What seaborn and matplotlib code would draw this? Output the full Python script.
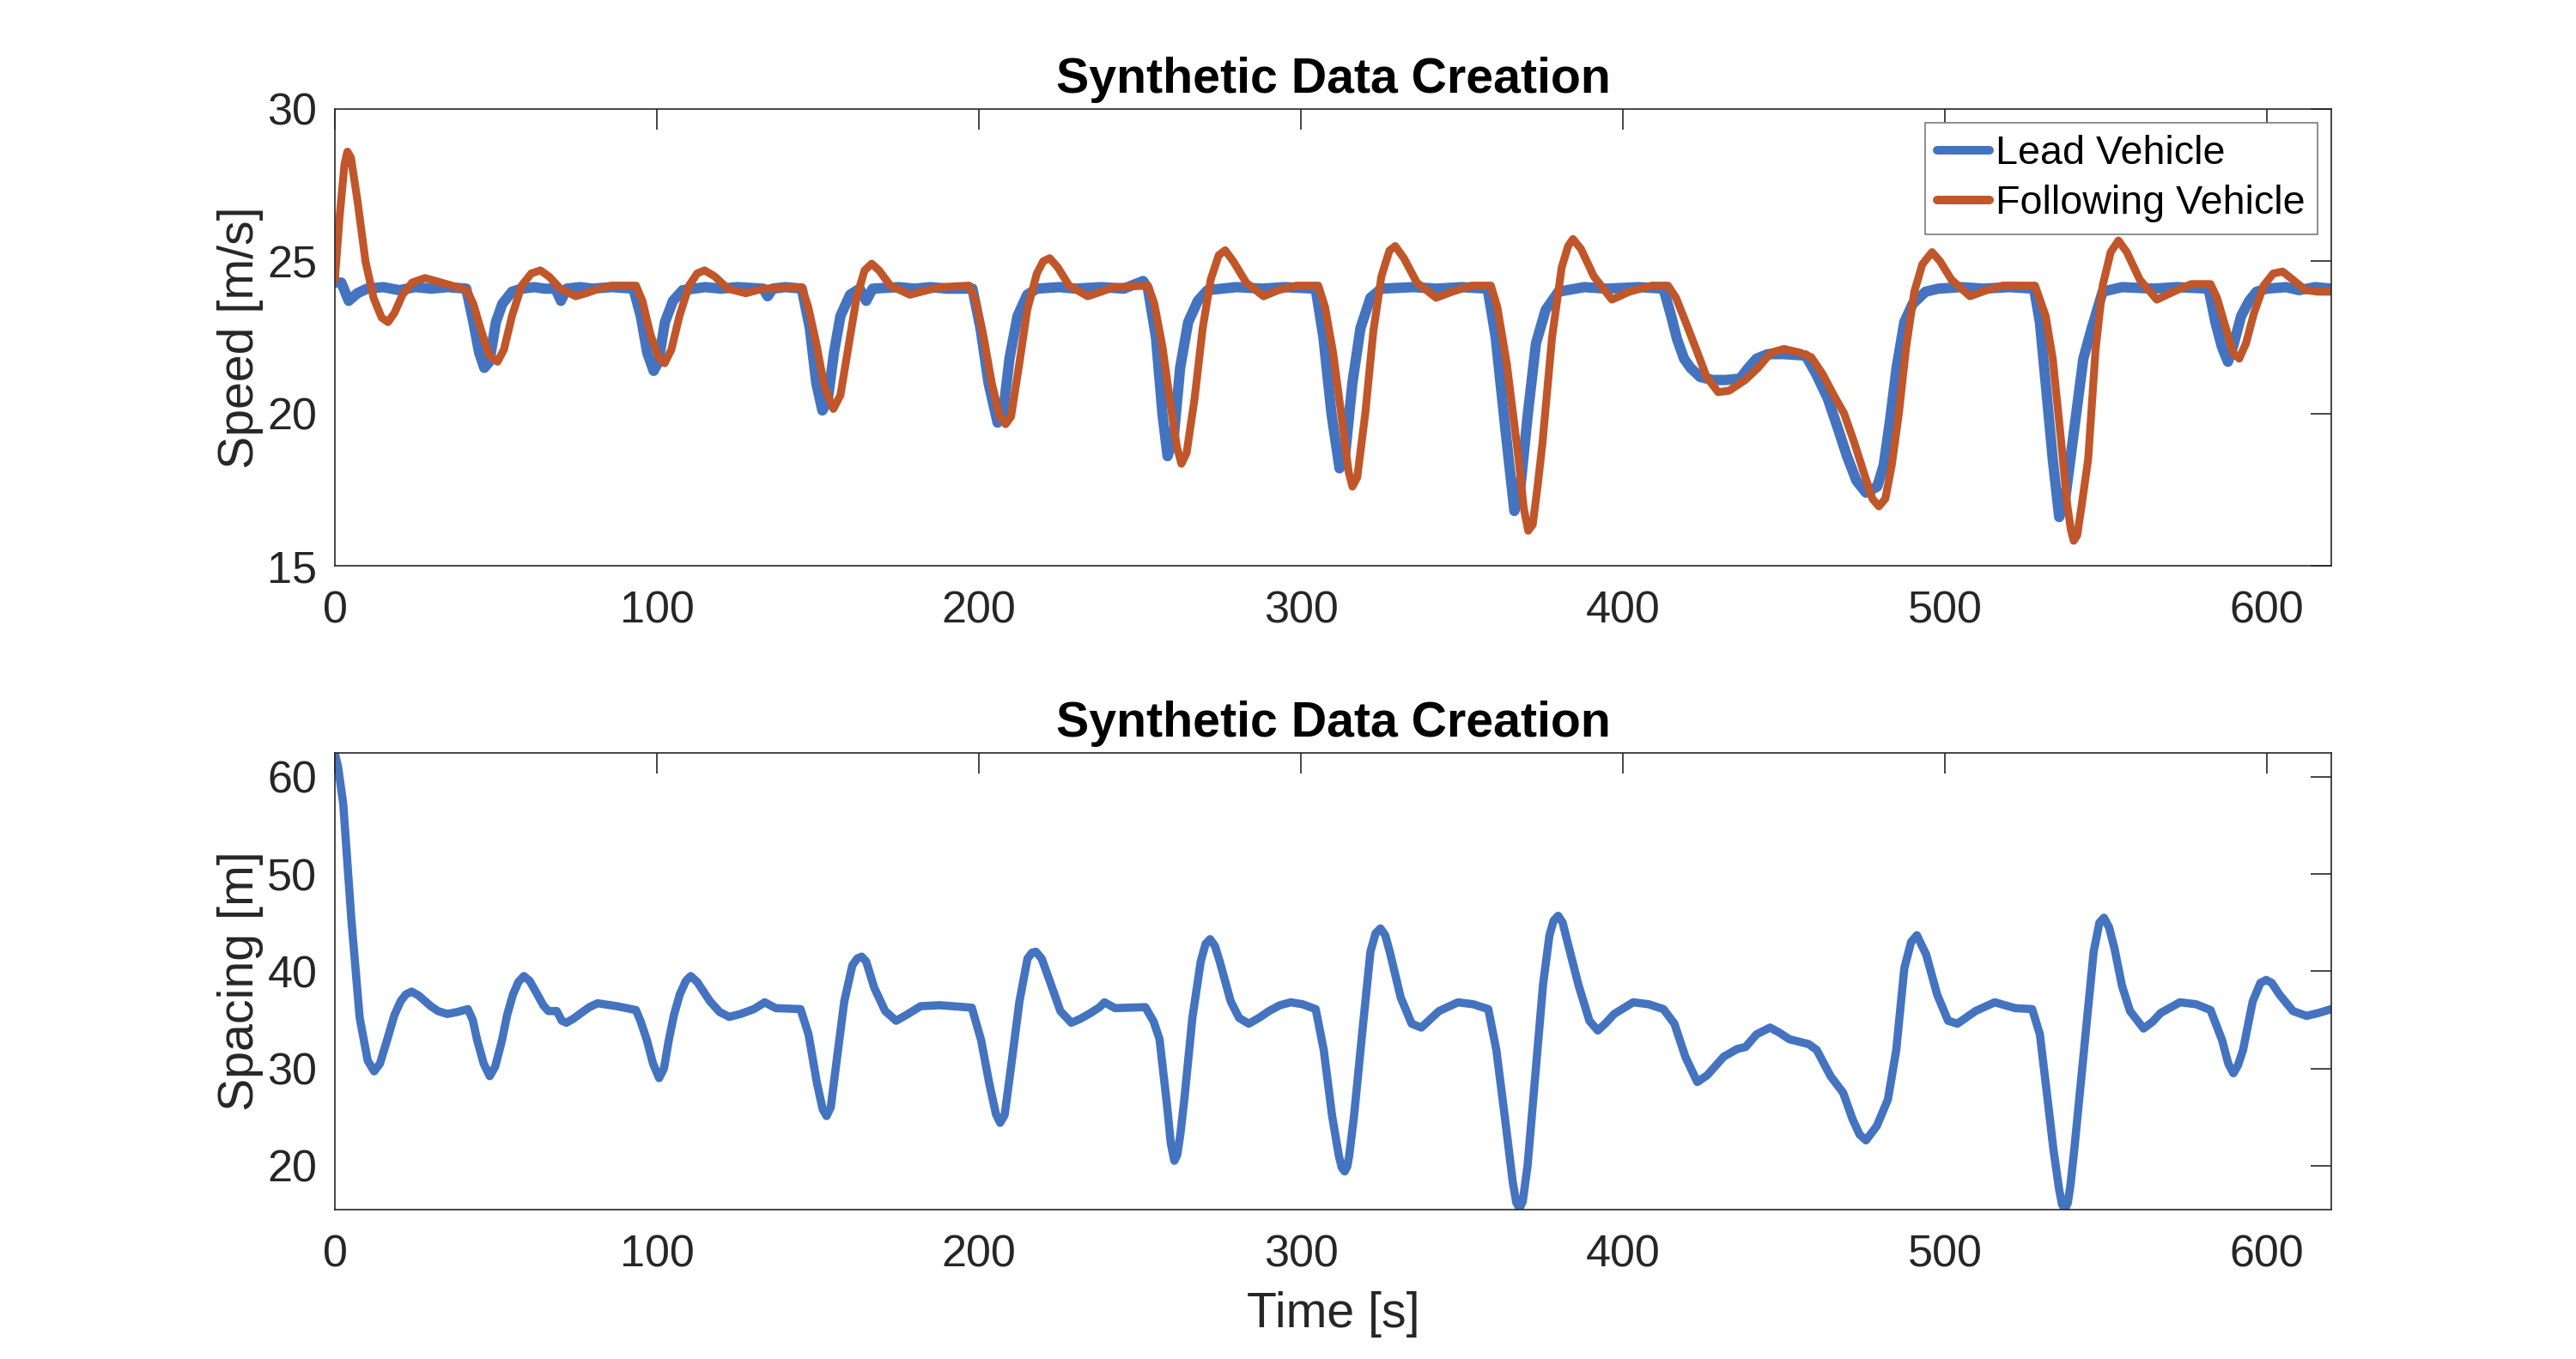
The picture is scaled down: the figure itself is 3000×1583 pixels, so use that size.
import numpy as np
import pandas as pd
import matplotlib
matplotlib.use("Agg")
import matplotlib.pyplot as plt
import seaborn as sns

# ---- data ----
lead_t = [0, 2, 4.3, 7, 10, 15, 20, 25, 30, 35, 40.8, 43, 44.8, 46.4, 48, 50, 52, 55, 58, 62, 65,
          68.5, 70.2, 72, 76, 80, 86, 92.7, 95, 97, 99, 100.5, 102.5, 105, 108, 115, 120, 125,
          133, 134.4, 136, 140, 145, 147.5, 149.5, 151.4, 153, 155, 157, 160, 163, 165, 167, 175,
          180, 185, 190, 198, 200.5, 203, 205.8, 207.5, 209.5, 212, 215, 218, 225, 230, 238,
          245, 251, 252.5, 255, 257, 258.6, 260.5, 262.5, 265, 268, 271, 280, 288, 295, 304.6,
          307, 309.5, 312, 313.8, 316, 318.5, 321.6, 325, 335, 342, 350, 358, 360.5, 363.5,
          366.3, 368, 370.5, 373, 376, 380, 388, 395, 405, 412.6, 415, 416.8, 419, 421, 424,
          427.9, 432, 436.4, 439, 441.5, 445, 450, 456.8, 460, 463.6, 466.5, 469.6, 472.5,
          475.5, 479, 481, 483, 485, 487.4, 490, 494, 498, 505, 512, 520, 527.7, 529.5, 531.3,
          533.5, 535.5, 537.5, 540.8, 543, 545.6, 549, 555, 565, 572, 581.9, 584, 586, 587.9,
          589.5, 592, 594.5, 596.8, 600, 606, 610, 615, 620]
lead_v = [24.3, 24.3, 23.7, 23.95, 24.1, 24.15, 24.05, 24.15, 24.1, 24.15, 24.1, 23.0, 22.0, 21.5,
          21.7, 23.0, 23.6, 24.0, 24.1, 24.15, 24.1, 24.1, 23.7, 24.1, 24.15, 24.1, 24.15, 24.1,
          23.2, 22.0, 21.4, 21.7, 23.0, 23.7, 24.05, 24.15, 24.1, 24.15, 24.1, 23.85, 24.1,
          24.15, 24.1, 22.8, 21.0, 20.1, 20.4, 22.0, 23.2, 23.9, 24.1, 23.7, 24.1, 24.15, 24.1,
          24.15, 24.1, 24.1, 22.8, 21.0, 19.7, 20.0, 21.8, 23.2, 23.9, 24.1, 24.15, 24.1, 24.15,
          24.1, 24.35, 24.1, 22.5, 20.0, 18.6, 19.2, 21.5, 23.0, 23.7, 24.05, 24.15, 24.1,
          24.15, 24.1, 22.5, 20.0, 18.2, 18.7, 21.0, 22.8, 23.8, 24.1, 24.15, 24.1, 24.15,
          24.1, 22.5, 19.5, 16.8, 17.4, 20.0, 22.3, 23.4, 24.0, 24.15, 24.1, 24.15, 24.1, 23.2,
          22.45, 21.8, 21.5, 21.2, 21.1, 21.1, 21.15, 21.5, 21.8, 21.95, 21.95, 21.9, 21.3,
          20.5, 19.6, 18.6, 17.8, 17.4, 17.6, 18.3, 19.8, 21.5, 23.0, 23.6, 24.0, 24.1, 24.15,
          24.1, 24.15, 24.1, 23.0, 21.0, 18.5, 16.6, 17.3, 20.0, 21.8, 22.8, 24.0, 24.15, 24.1,
          24.15, 24.1, 23.0, 22.2, 21.7, 22.2, 23.2, 23.7, 24.0, 24.1, 24.15, 24.05, 24.15, 24.1]

follow_t = [0, 1.5, 3, 3.9, 5, 7, 9.5, 12, 14.5, 16.5, 18.5, 21, 24, 28, 33, 38, 41, 43, 45.5, 48,
            50.5, 52.5, 55, 58, 61, 63.8, 66.5, 70, 74.8, 78, 82, 86, 93.5, 95.5, 98, 100.5,
            102.4, 104.5, 107, 110, 112.5, 114.8, 118, 122, 127.6, 133, 145, 147, 149.5, 152,
            154.8, 157, 159.5, 162, 164.5, 166.7, 169, 172.5, 178.6, 184, 188, 197, 199, 201.5,
            204, 206.5, 208.3, 210, 212.5, 215, 218, 220, 222, 224.5, 228, 233.8, 238, 242,
            252.5, 254.5, 257, 259.5, 261.5, 262.9, 264.5, 267, 269.5, 272, 274.5, 276.5, 279,
            283, 288.4, 293, 298.6, 305.4, 307.5, 310, 313, 314.8, 316, 317.5, 320, 322.5, 325,
            327.5, 329.3, 332, 336, 342, 347, 353, 359, 361, 364, 367.5, 369.2, 370.6, 372,
            373.5, 375, 378, 381, 383, 384.5, 387, 391, 396.6, 402, 409, 414, 416.5, 419.5,
            422.8, 426, 429.6, 433, 438, 442, 446, 450, 455, 458.5, 462, 465.5, 468.7, 472, 475,
            477.5, 479.5, 481.5, 483.5, 485.7, 488, 490.5, 493, 496, 498.5, 502, 507.8, 513, 518,
            528, 531.3, 533.5, 536, 538, 539.1, 540, 541.1, 542.5, 544.5, 546.8, 549, 551.5,
            553.9, 556.5, 560.5, 565.8, 571, 576.5, 582.5, 584.5, 587, 589.5, 591.4, 593.5, 596,
            599, 602, 604.9, 608, 612, 616, 620]
follow_v = [24.4, 26.5, 28.2, 28.6, 28.4, 27.0, 25.0, 23.8, 23.15, 23.0, 23.3, 23.9, 24.3, 24.45,
            24.3, 24.15, 24.05, 23.6, 22.7, 21.9, 21.7, 22.1, 23.2, 24.2, 24.6, 24.7, 24.5, 24.1,
            23.85, 23.95, 24.1, 24.2, 24.2, 23.7, 22.6, 21.85, 21.65, 22.1, 23.2, 24.2, 24.6,
            24.7, 24.5, 24.1, 23.95, 24.1, 24.15, 23.5, 22.3, 20.9, 20.15, 20.6, 22.2, 23.8,
            24.7, 24.92, 24.7, 24.2, 23.9, 24.05, 24.15, 24.2, 23.7, 22.5, 21.0, 19.9, 19.65,
            19.9, 21.6, 23.4, 24.6, 25.0, 25.1, 24.8, 24.2, 23.85, 24.0, 24.15, 24.2, 23.6, 22.2,
            20.3, 18.9, 18.35, 18.7, 20.5, 22.8, 24.4, 25.2, 25.36, 25.0, 24.3, 23.85, 24.05,
            24.2, 24.2, 23.5, 22.0, 19.6, 18.1, 17.6, 17.9, 20.0, 22.7, 24.5, 25.35, 25.5, 25.1,
            24.3, 23.8, 24.0, 24.2, 24.2, 23.5, 21.6, 18.6, 16.9, 16.15, 16.35, 17.6, 19.0,
            22.5, 24.8, 25.5, 25.73, 25.4, 24.5, 23.74, 24.0, 24.2, 24.2, 23.8, 23.0, 22.1,
            21.2, 20.7, 20.75, 21.1, 21.5, 22.0, 22.12, 22.0, 21.85, 21.3, 20.6, 20.0, 19.0,
            18.0, 17.2, 16.95, 17.2, 18.3, 20.0, 22.2, 24.0, 24.9, 25.3, 25.0, 24.4, 23.85, 24.05,
            24.2, 24.2, 23.2, 21.8, 19.2, 17.0, 16.2, 15.82, 16.0, 17.0, 18.5, 22.1, 24.2, 25.3,
            25.68, 25.3, 24.4, 23.74, 24.0, 24.25, 24.25, 23.8, 22.9, 22.0, 21.8, 22.3, 23.3,
            24.2, 24.6, 24.66, 24.4, 24.05, 24.0, 24.0]

space_t = [0, 1, 2.6, 5.1, 7.7, 10.2, 12.2, 14, 16.2, 18.5, 20.4, 22, 23.8, 26, 29.8, 32, 34.9,
           38, 41.3, 42.8, 44.2, 46.2, 48.1, 49.8, 51.9, 53.5, 55.3, 57, 58.7, 60.5, 62.9,
           64.7, 66.3, 68.9, 70.5, 71.9, 74, 76.5, 79, 81.6, 87.6, 93.5, 95, 96.9, 98.8, 100.7,
           102.2, 103.7, 105.3, 107.1, 109, 110.5, 112.5, 116.5, 119.5, 122.5, 126, 130.1,
           133.5, 136.9, 144.6, 147.1, 149.7, 151.5, 152.7, 154, 155.6, 158.2, 160.7, 162.2,
           163.6, 165, 167.5, 170.9, 174.3, 177.5, 181.9, 187.9, 197.8, 200.7, 203.2, 205.3,
           206.6, 208, 210, 212.6, 215.1, 216.5, 217.7, 219.5, 222, 225.3, 228.7, 231.5, 234.7,
           237.5, 239, 242.3, 251.7, 254.3, 256.1, 258.5, 259.6, 260.7, 261.6, 262.6, 263.8,
           266.3, 268.9, 270.4, 271.8, 273.3, 274.8, 278.2, 280.8, 283.8, 287, 290.1, 293.5,
           296.9, 300.5, 304.6, 307.1, 309.7, 311.8, 312.7, 313.6, 314.4, 315, 316.5, 319,
           321.6, 323.2, 324.7, 326.2, 327.6, 331, 334.4, 337.4, 340, 342.9, 348.8, 353.5,
           358.2, 360.7, 363.3, 365.8, 366.9, 367.9, 368.9, 370.4, 372.6, 375.2, 377.2, 378.5,
           379.9, 381.3, 382.8, 386.2, 389.6, 392.2, 394.5, 397.3, 403.2, 408, 412.6, 416,
           419.4, 423.1, 426.2, 431.3, 435.5, 438.1, 441.5, 445.7, 448.5, 451.7, 457.7, 460.2,
           464.5, 468.4, 471.3, 473.5, 475.5, 478.9, 482.3, 484.9, 487.4, 489.5, 491.3, 494.2,
           497.6, 501, 503.9, 506.5, 509.5, 515.5, 521.8, 527.1, 529.5, 531.3, 533.7, 535.5,
           536.4, 537.3, 538.2, 539, 540.2, 543.2, 546.2, 548, 549.4, 551, 552.7, 555, 557.5,
           561.7, 564.5, 567, 573, 578, 582.5, 586.1, 588, 589.6, 591, 592.6, 595.6, 598, 599.8,
           601.5, 603.9, 608.1, 612.3, 616, 620]
space_v = [62.4, 61.0, 57.2, 45.4, 35.2, 30.8, 29.7, 30.5, 32.9, 35.5, 36.9, 37.6, 37.9, 37.5, 36.4,
           35.9, 35.6, 35.8, 36.1, 35.0, 32.9, 30.5, 29.2, 30.2, 32.9, 35.5, 37.6, 38.9, 39.5,
           39.0, 37.6, 36.5, 35.9, 35.9, 34.9, 34.7, 35.1, 35.7, 36.3, 36.7, 36.4, 36.0, 34.8,
           32.9, 30.5, 29.0, 30.0, 32.9, 35.5, 37.6, 39.0, 39.5, 38.9, 36.9, 35.8, 35.3, 35.6,
           36.1, 36.8, 36.2, 36.1, 33.5, 28.5, 25.8, 25.1, 26.0, 30.2, 36.9, 40.6, 41.3, 41.5,
           41.0, 38.3, 35.9, 34.9, 35.5, 36.4, 36.5, 36.25, 32.9, 28.5, 25.3, 24.4, 25.2, 30.2,
           36.9, 41.3, 41.9, 42.0, 41.3, 39.0, 35.9, 34.7, 35.1, 35.7, 36.3, 36.8, 36.2, 36.3,
           34.8, 33.0, 26.0, 22.3, 20.5, 21.1, 23.3, 26.8, 35.2, 41.0, 42.8, 43.3, 42.6, 41.0,
           36.9, 35.2, 34.6, 35.2, 35.9, 36.5, 36.8, 36.6, 36.1, 31.9, 25.1, 21.0, 19.8, 19.4,
           19.9, 21.0, 25.1, 33.5, 42.0, 43.9, 44.4, 43.7, 42.0, 37.3, 34.6, 34.2, 35.0, 35.9,
           36.8, 36.6, 36.1, 31.9, 25.1, 18.3, 16.2, 15.6, 16.3, 20.0, 28.5, 38.6, 43.7, 45.2,
           45.7, 45.0, 43.0, 38.6, 34.9, 33.9, 34.6, 35.6, 36.8, 36.6, 36.1, 34.6, 31.2, 28.6,
           29.3, 31.2, 32.0, 32.2, 33.5, 34.2, 33.7, 33.0, 32.5, 31.9, 29.2, 27.5, 24.8, 23.2,
           22.6, 24.1, 26.8, 31.9, 40.3, 43.0, 43.7, 41.7, 37.6, 34.9, 34.6, 35.2, 35.9, 36.8,
           36.2, 36.1, 33.5, 28.5, 21.7, 17.5, 16.0, 15.5, 16.2, 18.0, 21.7, 31.9, 42.0, 45.0,
           45.5, 44.5, 42.3, 38.5, 35.9, 34.1, 34.8, 35.7, 36.8, 36.6, 36.0, 32.9, 30.5, 29.5,
           30.3, 31.9, 36.9, 38.8, 39.1, 38.8, 37.6, 35.9, 35.4, 35.7, 36.1]

x_ticks = [0, 100, 200, 300, 400, 500, 600]
speed_ticks = [15, 20, 25, 30]
space_ticks = [20, 30, 40, 50, 60]

BLUE = "#4473C0"
ORANGE = "#C0562A"
INK = "#262626"

sns.set_theme(style="white")
plt.rcParams["font.family"] = ["Liberation Sans", "DejaVu Sans"]

fig = plt.figure(figsize=(20, 1583 / 150), dpi=150)
ax1 = fig.add_axes([0.130, 0.5837, 0.775, 0.3361])
ax2 = fig.add_axes([0.130, 0.1099, 0.775, 0.3364])

line_kw = dict(solid_joinstyle="round", solid_capstyle="round")
sns.lineplot(x=lead_t, y=lead_v, ax=ax1, color=BLUE, linewidth=5.8,
             label="Lead Vehicle", **line_kw)
sns.lineplot(x=follow_t, y=follow_v, ax=ax1, color=ORANGE, linewidth=4.4,
             label="Following Vehicle", **line_kw)
sns.lineplot(x=space_t, y=space_v, ax=ax2, color=BLUE, linewidth=4.6, **line_kw)

for ax in (ax1, ax2):
    ax.set_xlim(0, 620)
    ax.set_xticks(x_ticks)
    ax.tick_params(axis="both", direction="in", length=11.5, width=0.8,
                   top=True, right=True, labelsize=25, colors=INK)
    ax.tick_params(axis="x", pad=13.5)
    ax.tick_params(axis="y", pad=10)
    for s in ax.spines.values():
        s.set_color(INK)
        s.set_linewidth(0.8)
    ax.set_title("Synthetic Data Creation", fontsize=27.5, fontweight="bold",
                 color="black", pad=9)
    ax.grid(False)

ax1.set_ylim(15, 30)
ax1.set_yticks(speed_ticks)
ax1.set_ylabel("Speed [m/s]", fontsize=27.5, color=INK, labelpad=2)
ax1.set_xlabel("")

ax2.set_ylim(15.47, 62.5)
ax2.set_yticks(space_ticks)
ax2.set_ylabel("Spacing [m]", fontsize=27.5, color=INK, labelpad=2)
ax2.set_xlabel("Time [s]", fontsize=27.5, color=INK, labelpad=8.5)

leg = ax1.legend(loc="upper right", bbox_to_anchor=(0.993, 0.970), borderaxespad=0,
                 fontsize=22.4, frameon=True, fancybox=False, framealpha=1,
                 edgecolor="#7a7a7a", handlelength=1.3, handletextpad=0.15,
                 borderpad=0.3, labelspacing=0.3)
leg.get_frame().set_linewidth(0.8)
for h in leg.get_lines():
    h.set_linewidth(4.8)
for t in leg.get_texts():
    t.set_color("black")

fig.savefig("out.png", dpi=150)
plt.close(fig)
